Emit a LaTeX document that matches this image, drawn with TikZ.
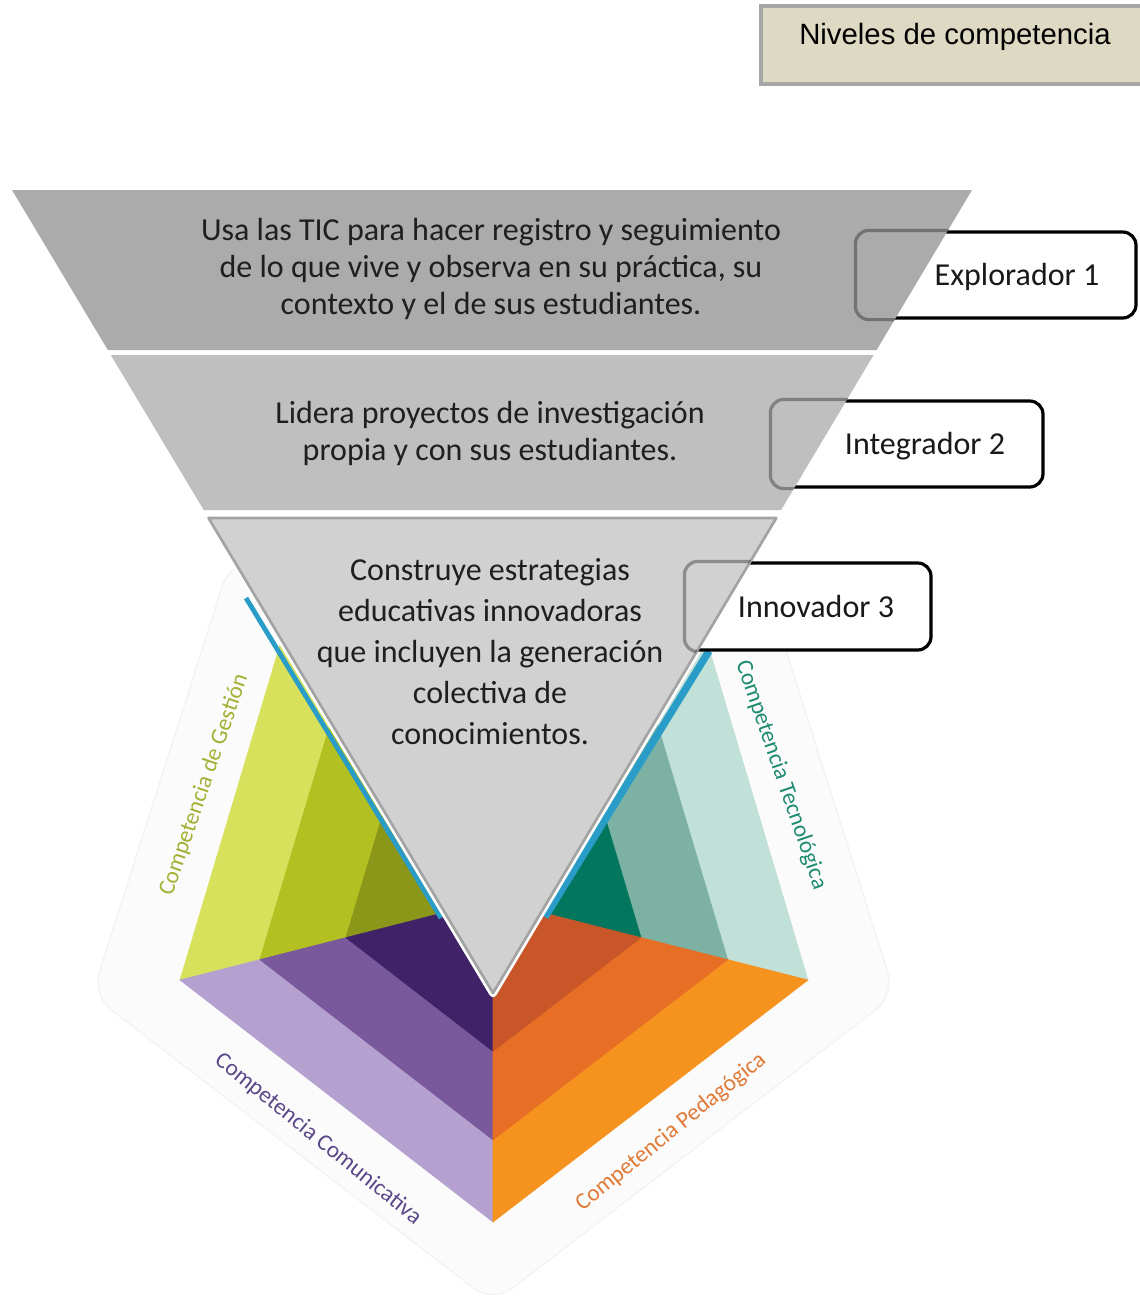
\documentclass[tikz,border=0pt]{standalone}
\usepackage{fontspec}
\setmainfont{Carlito}
\newfontfamily\arialfont{Liberation Sans}
\usetikzlibrary{calc}
\definecolor{gLight}{HTML}{D8E15B}
\definecolor{gMid}{HTML}{B2C021}
\definecolor{gDark}{HTML}{8A9719}
\definecolor{pLight}{HTML}{B4A1CF}
\definecolor{pMid}{HTML}{79589C}
\definecolor{pDark}{HTML}{3F2267}
\definecolor{oLight}{HTML}{F6921E}
\definecolor{oMid}{HTML}{E66F25}
\definecolor{oDark}{HTML}{C95628}
\definecolor{tLight}{HTML}{C0E0D8}
\definecolor{tMid}{HTML}{7CB1A3}
\definecolor{tDark}{HTML}{02775E}
\definecolor{stripe}{HTML}{2A9CC8}
\definecolor{bandA}{HTML}{ABABAB}
\definecolor{bandB}{HTML}{BFBFBF}
\definecolor{bandC}{HTML}{D1D1D1}
\definecolor{bandCline}{HTML}{A3A3A3}
\definecolor{tan}{HTML}{DDD9C3}
\definecolor{tanline}{HTML}{A6A6A6}
\definecolor{labG}{HTML}{A3B136}
\definecolor{labT}{HTML}{1E8B71}
\definecolor{labP}{HTML}{5A4889}
\definecolor{labO}{HTML}{E07A37}
\definecolor{faint}{HTML}{FBFBFB}
\definecolor{faintline}{HTML}{F3F3F3}
\tikzset{
  piece/.style={line width=0.4pt, line join=round},
  levelbox/.style={draw=black, line width=2.4pt, rounded corners=10pt, fill=white, inner sep=0pt},
  boxoverlay/.style={draw=black, draw opacity=0.33, line width=2.4pt, rounded corners=10pt},
  bandtext/.style={align=center, font=\fontsize{24}{27.75}\selectfont, text=black!88},
  bandtextC/.style={align=center, font=\fontsize{24}{30.75}\selectfont, text=black!88},
  leveltext/.style={font=\fontsize{24}{28}\selectfont, text=black!90},
  complabel/.style={font=\fontsize{17.5}{20}\selectfont, inner sep=0pt},
}
\begin{document}
\begin{tikzpicture}[x=0.75pt,y=-0.75pt]
\useasboundingbox (0,0) rectangle (1139,1306);
\fill[white] (0,0) rectangle (1139,1306);

% faint outer pentagon
\coordinate (OTL) at (230,562);
\coordinate (OL) at (92,995);
\coordinate (OB) at (493,1303);
\coordinate (OR) at (895,995);
\coordinate (OTR) at (758,562);
\filldraw[fill=faint, draw=faintline, line width=1pt, rounded corners=18pt]
  (OTL) -- (OL) -- (OB) -- (OR) -- (OTR) -- cycle;

% coloured pentagon
\coordinate (C) at (493,900);
\coordinate (B) at (493,1222);
\coordinate (L) at (180,980);
\coordinate (R) at (808,980);
\coordinate (TL) at (285,628);
\coordinate (TR) at (703,628);
\coordinate (B1) at ($(C)!0.745!(B)$);
\coordinate (B2) at ($(C)!0.47!(B)$);
\coordinate (L1) at ($(C)!0.745!(L)$);
\coordinate (L2) at ($(C)!0.47!(L)$);
\coordinate (R1) at ($(C)!0.745!(R)$);
\coordinate (R2) at ($(C)!0.47!(R)$);
\coordinate (TL1) at ($(C)!0.745!(TL)$);
\coordinate (TL2) at ($(C)!0.47!(TL)$);
\coordinate (TR1) at ($(C)!0.745!(TR)$);
\coordinate (TR2) at ($(C)!0.47!(TR)$);

% Gestion (green)
\filldraw[piece, fill=gLight, draw=gLight] (L) -- (TL) -- (TL1) -- (L1) -- cycle;
\filldraw[piece, fill=gMid, draw=gMid] (L1) -- (TL1) -- (TL2) -- (L2) -- cycle;
\filldraw[piece, fill=gDark, draw=gDark] (L2) -- (TL2) -- (C) -- cycle;
% Tecnologica (teal)
\filldraw[piece, fill=tLight, draw=tLight] (R) -- (TR) -- (TR1) -- (R1) -- cycle;
\filldraw[piece, fill=tMid, draw=tMid] (R1) -- (TR1) -- (TR2) -- (R2) -- cycle;
\filldraw[piece, fill=tDark, draw=tDark] (R2) -- (TR2) -- (C) -- cycle;
% Comunicativa (purple)
\filldraw[piece, fill=pLight, draw=pLight] (L) -- (B) -- (B1) -- (L1) -- cycle;
\filldraw[piece, fill=pMid, draw=pMid] (L1) -- (B1) -- (B2) -- (L2) -- cycle;
\filldraw[piece, fill=pDark, draw=pDark] (L2) -- (B2) -- (C) -- cycle;
% Pedagogica (orange)
\filldraw[piece, fill=oLight, draw=oLight] (B) -- (R) -- (R1) -- (B1) -- cycle;
\filldraw[piece, fill=oMid, draw=oMid] (B1) -- (R1) -- (R2) -- (B2) -- cycle;
\filldraw[piece, fill=oDark, draw=oDark] (B2) -- (R2) -- (C) -- cycle;

% competency labels
\node[complabel, text=labG, rotate=71] (lgest) at (204,785) {Competencia de Gestión};
\node[complabel, text=labT, rotate=-71] (ltec) at (781,775) {Competencia Tecnológica};
\node[complabel, text=labP, rotate=-39] (lcom) at (318,1139) {Competencia Comunicativa};
\node[complabel, text=labO, rotate=39] (lped) at (671,1132) {Competencia Pedagógica};

% blue stripes
\coordinate (sLa) at (246,598);
\coordinate (sLb) at (441,918);
\coordinate (sRa) at (709,651);
\coordinate (sRb) at (545,917);
\draw[stripe, line width=3.6pt] (sLa) -- (sLb);
\draw[stripe, line width=5.5pt] (sRa) -- (sRb);

% gray triangle geometry
\coordinate (A1) at (12,190);
\coordinate (A2) at (972,190);
\coordinate (A3) at (876.6,350);
\coordinate (A4) at (107.8,350);
\coordinate (M1) at (110.8,355);
\coordinate (M2) at (873.6,355);
\coordinate (M3) at (781.1,510);
\coordinate (M4) at (203.7,510);
\coordinate (K1) at (208.5,518);
\coordinate (K2) at (776.3,518);
\coordinate (K3) at (493,993);

% white outline of the innermost triangle
\draw[white, line width=6pt, line join=round] (K1) -- (K2) -- (K3) -- cycle;

% level boxes (behind the bands)
\node[levelbox, minimum width=209.25pt, minimum height=64.5pt] (box1) at (996.5,275) {};
\node[levelbox, minimum width=203.25pt, minimum height=64.5pt] (box2) at (907.5,444) {};
\node[levelbox, minimum width=183.75pt, minimum height=65.25pt] (box3) at (808.5,606.5) {};

% bands
\fill[bandA] (A1) -- (A2) -- (A3) -- (A4) -- cycle;
\fill[bandB] (M1) -- (M2) -- (M3) -- (M4) -- cycle;
\filldraw[fill=bandC, draw=bandCline, line width=2pt, line join=round] (K1) -- (K2) -- (K3) -- cycle;

% box borders seen through the bands
\begin{scope}
  \clip (A1) -- (A2) -- (A3) -- (A4) -- cycle;
  \draw[boxoverlay] (box1.south west) rectangle (box1.north east);
\end{scope}
\begin{scope}
  \clip (M1) -- (M2) -- (M3) -- (M4) -- cycle;
  \draw[boxoverlay] (box2.south west) rectangle (box2.north east);
\end{scope}
\begin{scope}
  \clip (K1) -- (K2) -- (K3) -- cycle;
  \draw[boxoverlay] (box3.south west) rectangle (box3.north east);
\end{scope}

% band texts
\node[bandtext] (txt1) at (491,269) {Usa las TIC para hacer registro y seguimiento\\de lo que vive y observa en su práctica, su\\contexto y el de sus estudiantes.};
\node[bandtext] (txt2) at (490,433) {Lidera proyectos de investigación\\propia y con sus estudiantes.};
\node[bandtextC] (txt3) at (490,652) {Construye estrategias\\educativas innovadoras\\que incluyen la generación\\colectiva de\\conocimientos.};

% level labels
\node[leveltext] (lev1) at (1017,277) {Explorador 1};
\node[leveltext] (lev2) at (925,446) {Integrador 2};
\node[leveltext] (lev3) at (816,607) {Innovador 3};

% title box
\draw[fill=tan, draw=tanline, line width=3pt] (761,6) rectangle (1150,84);
\node[font=\arialfont\fontsize{22}{26}\selectfont] (title) at (955,37) {Niveles de competencia};
\end{tikzpicture}
\end{document}
